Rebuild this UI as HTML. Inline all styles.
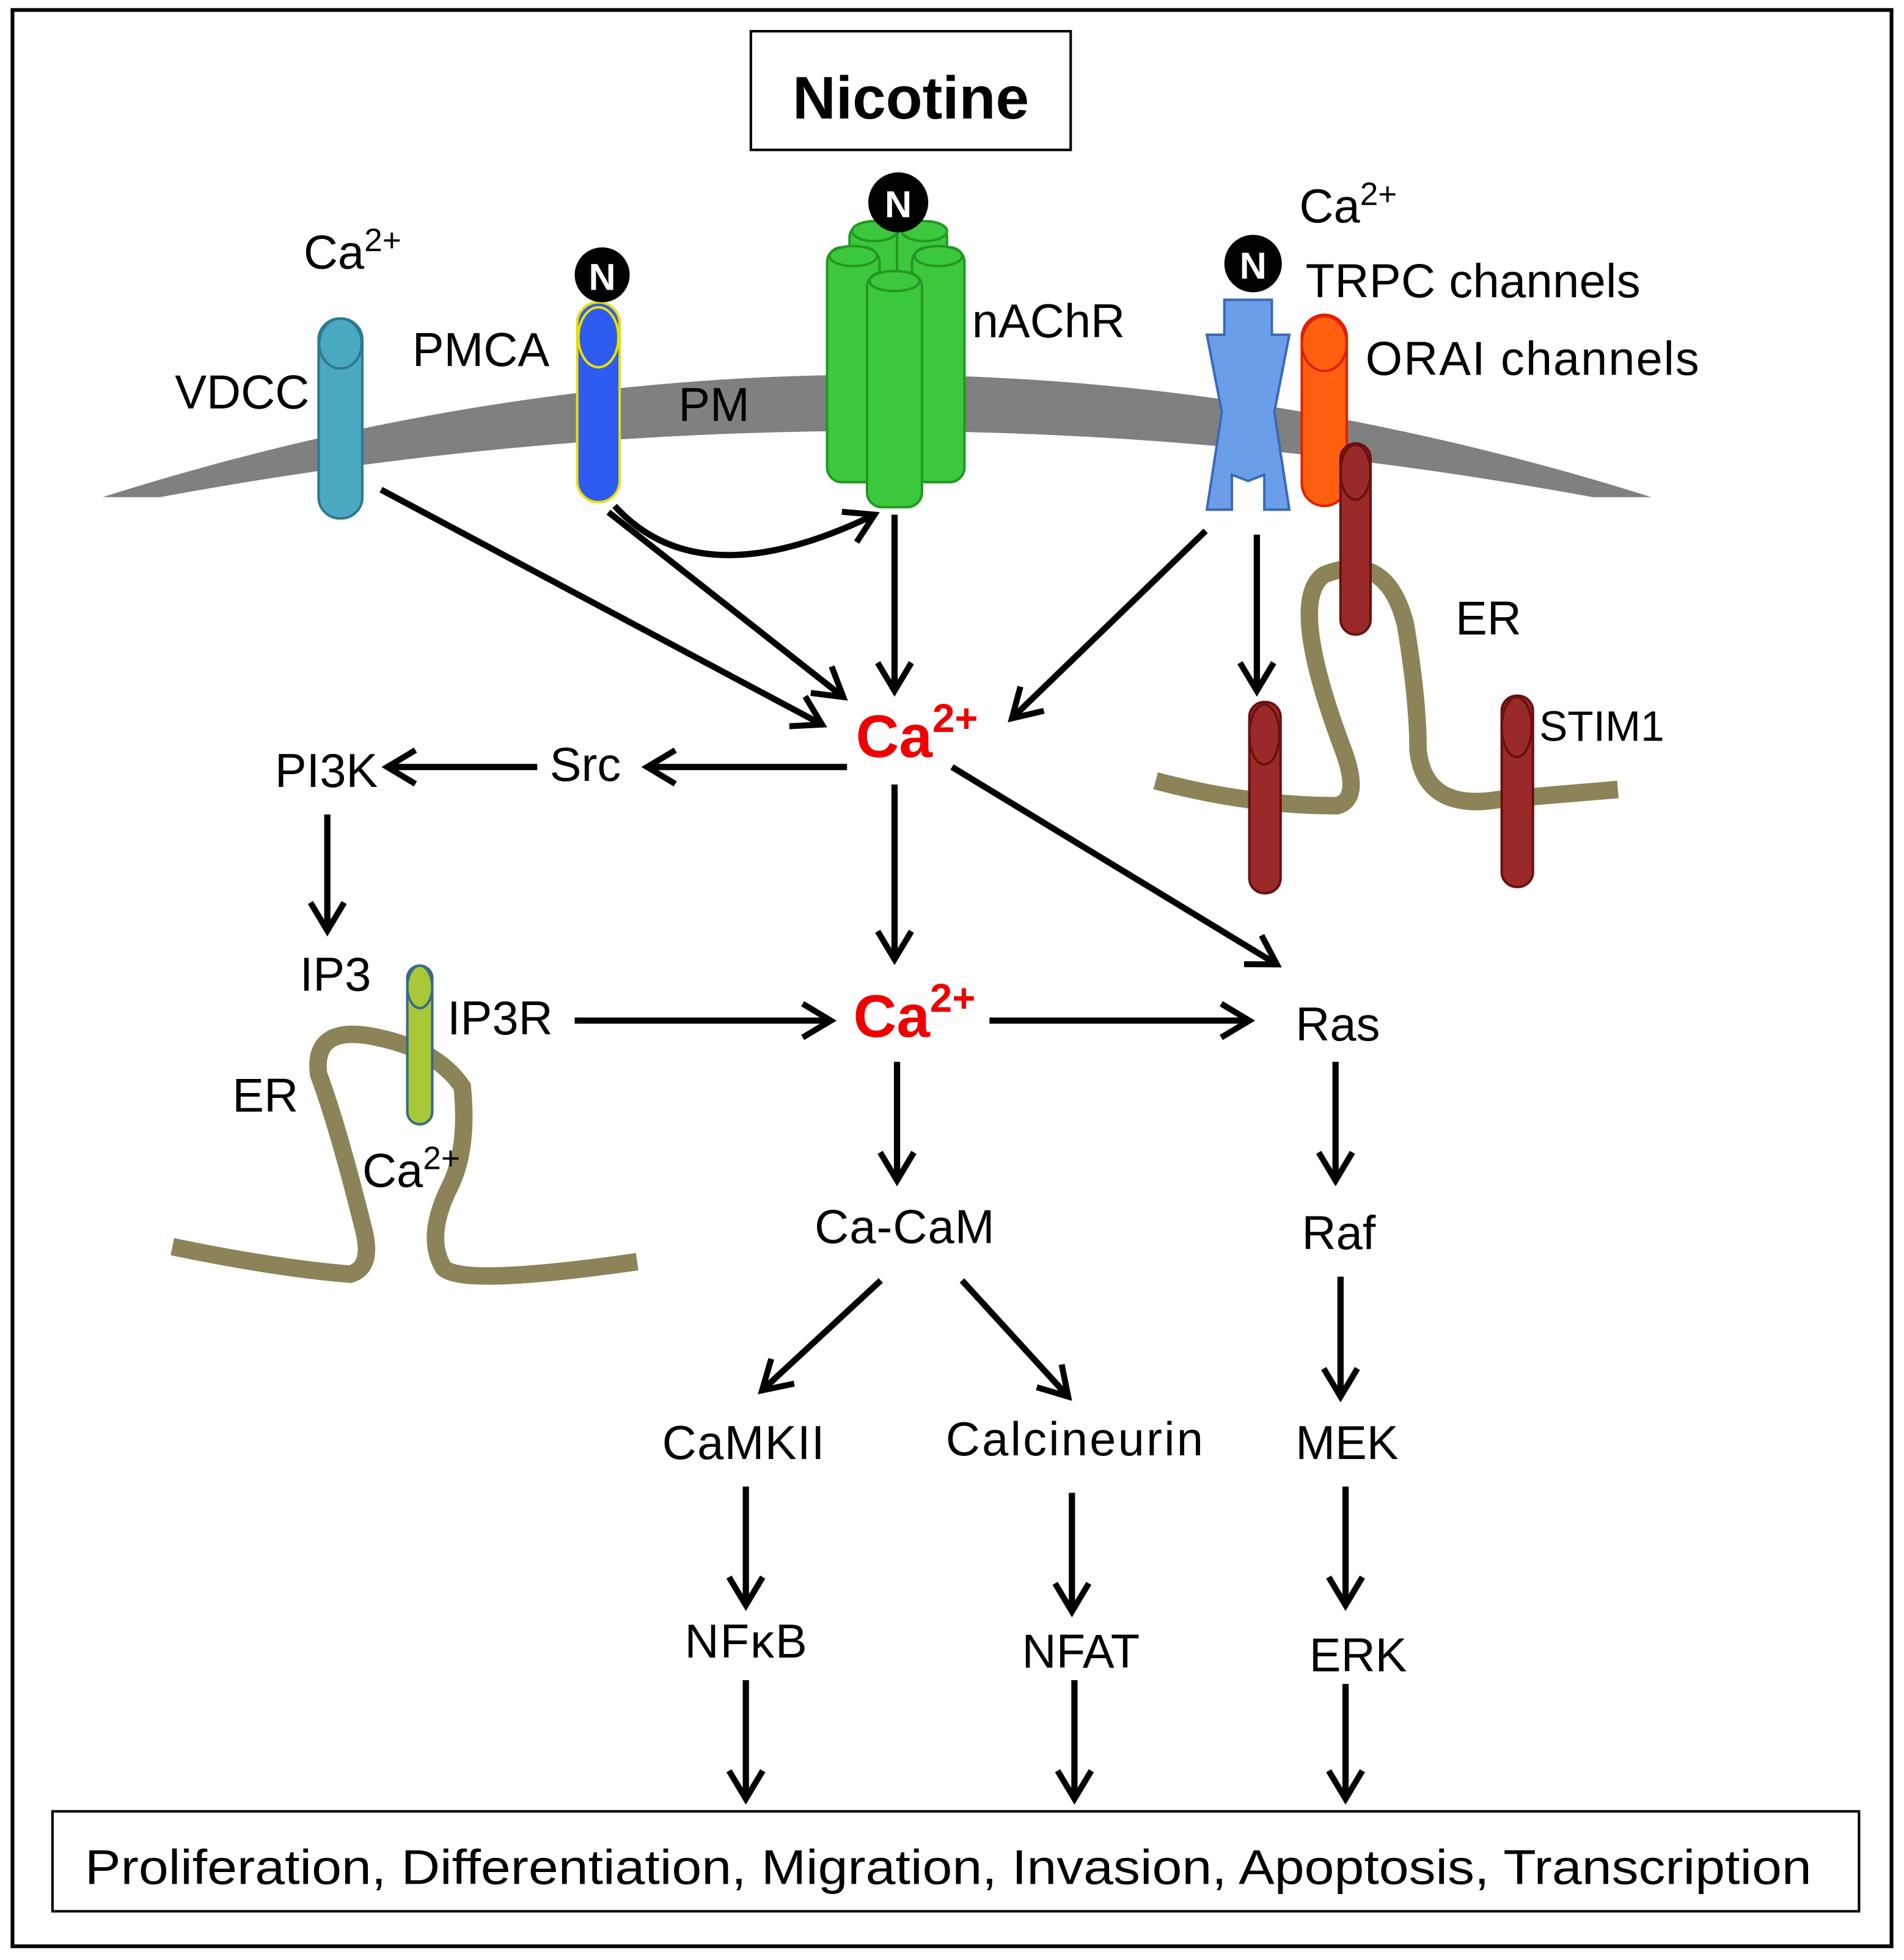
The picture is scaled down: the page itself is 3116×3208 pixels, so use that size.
<!DOCTYPE html>
<html><head><meta charset="utf-8"><style>html,body{margin:0;padding:0;background:#fff}svg{display:block}text{font-family:"Liberation Sans","DejaVu Sans",sans-serif}</style></head>
<body>
<svg width="3116" height="3208" viewBox="0 0 1524 1569" preserveAspectRatio="none" xmlns="http://www.w3.org/2000/svg">
<defs>
<marker id="a" viewBox="0 0 20 20" refX="17" refY="10" markerWidth="30" markerHeight="30" orient="auto" markerUnits="userSpaceOnUse" style="overflow:visible">
<polyline points="2,1 17,10 2,19" fill="none" stroke="#000" stroke-width="3.2"/></marker>
</defs>
<rect x="10" y="8" width="1504" height="1550" fill="#fff" stroke="#000" stroke-width="3"/>
<rect x="601" y="25" width="256" height="95" fill="#fff" stroke="#000" stroke-width="2"/>
<text x="729" y="95" font-size="48" font-weight="bold" text-anchor="middle">Nicotine</text>
<path d="M82,398 Q700,202 1322,398 L1275,398 Q700,292 128,398 Z" fill="#808080"/>
<path d="M925,625 Q1000,645 1070,645 Q1090,640 1075,600 Q1030,480 1060,460 Q1110,440 1125,500 Q1135,560 1135,600 Q1140,650 1200,640 L1295,632" fill="none" stroke="#8c8458" stroke-width="14"/>
<path d="M138,998 Q220,1015 280,1020 Q300,1015 290,980 Q270,900 255,860 Q250,820 300,830 Q350,840 370,870 Q375,920 360,950 Q340,990 355,1015 Q370,1030 510,1010" fill="none" stroke="#8c8458" stroke-width="14"/>
<rect x="255" y="255" width="35" height="160" rx="17" fill="#4aa8c0" stroke="#2b7a90" stroke-width="2"/>
<ellipse cx="272.5" cy="275" rx="17" ry="20" fill="#4aa8c0" stroke="#2b7a90" stroke-width="2"/>
<rect x="462" y="242" width="34" height="160" rx="17" fill="#2e5cf0" stroke="#e8e000" stroke-width="2"/>
<ellipse cx="479" cy="270" rx="16" ry="24" fill="#2e5cf0" stroke="#e8e000" stroke-width="2"/>
<circle cx="482" cy="220" r="22" fill="#000"/><text x="482" y="232" font-size="30" font-weight="bold" fill="#fff" text-anchor="middle">N</text>
<g fill="#3cc83c" stroke="#229922" stroke-width="2">
<rect x="680" y="180" width="40" height="130" rx="10"/><rect x="718" y="180" width="40" height="130" rx="10"/>
<rect x="662" y="198" width="42" height="188" rx="12"/><rect x="730" y="198" width="42" height="188" rx="12"/>
<rect x="694" y="218" width="44" height="188" rx="12"/>
<ellipse cx="700" cy="185" rx="18" ry="8"/><ellipse cx="740" cy="185" rx="18" ry="8"/>
<ellipse cx="683" cy="205" rx="19" ry="8"/><ellipse cx="751" cy="205" rx="19" ry="8"/><ellipse cx="716" cy="225" rx="20" ry="8"/>
</g>
<circle cx="719" cy="162" r="24" fill="#000"/><text x="719" y="174" font-size="30" font-weight="bold" fill="#fff" text-anchor="middle">N</text>
<path d="M980,240 L1018,240 L1018,268 L1032,268 L1020,330 L1032,408 L1012,408 L1012,380 L999,385 L986,380 L986,408 L966,408 L978,330 L966,268 L980,268 Z" fill="#6a9ee8" stroke="#3a6ab8" stroke-width="2"/>
<circle cx="1003" cy="211" r="23" fill="#000"/><text x="1003" y="223" font-size="30" font-weight="bold" fill="#fff" text-anchor="middle">N</text>
<rect x="1042" y="252" width="36" height="153" rx="18" fill="#ff6010" stroke="#e02000" stroke-width="2"/>
<ellipse cx="1060" cy="275" rx="18" ry="22" fill="#ff6010" stroke="#e02000" stroke-width="2"/>
<g fill="#9a2a2a" stroke="#6a1010" stroke-width="2">
<rect x="1073" y="355" width="24" height="153" rx="12"/><ellipse cx="1085" cy="378" rx="12" ry="22"/>
<rect x="1000" y="562" width="25" height="153" rx="12"/><ellipse cx="1012" cy="588" rx="12" ry="24"/>
<rect x="1202" y="557" width="25" height="153" rx="12"/><ellipse cx="1214" cy="582" rx="12" ry="24"/>
</g>
<rect x="326" y="773" width="20" height="127" rx="10" fill="#a8c838" stroke="#3a6a8a" stroke-width="2"/>
<ellipse cx="336" cy="790" rx="10" ry="17" fill="#a8c838" stroke="#3a6a8a" stroke-width="2"/>
<g font-size="38">
<text x="243" y="215">Ca<tspan font-size="26" dy="-14">2+</tspan></text>
<text x="140" y="327">VDCC</text>
<text x="330" y="293">PMCA</text>
<text x="543" y="337">PM</text>
<text x="778" y="270">nAChR</text>
<text x="1040" y="178">Ca<tspan font-size="26" dy="-14">2+</tspan></text>
<text x="1045" y="238" textLength="268">TRPC channels</text>
<text x="1093" y="300" textLength="267">ORAI channels</text>
<text x="1165" y="508">ER</text>
<text x="1232" y="593" font-size="34">STIM1</text>
<text x="440" y="625">Src</text>
<text x="220" y="630">PI3K</text>
<text x="240" y="793">IP3</text>
<text x="358" y="828">IP3R</text>
<text x="186" y="890">ER</text>
<text x="290" y="950">Ca<tspan font-size="26" dy="-14">2+</tspan></text>
<text x="1037" y="833">Ras</text>
<text x="652" y="995" textLength="144">Ca-CaM</text>
<text x="1042" y="1000">Raf</text>
<text x="530" y="1168" textLength="130">CaMKII</text>
<text x="757" y="1165" textLength="206">Calcineurin</text>
<text x="1037" y="1168">MEK</text>
<text x="548" y="1327" textLength="98">NFκB</text>
<text x="818" y="1335">NFAT</text>
<text x="1048" y="1338">ERK</text>
</g>
<text x="685" y="606" font-size="48" font-weight="bold" fill="#ee0000">Ca<tspan font-size="32" dy="-20">2+</tspan></text>
<text x="683" y="830" font-size="48" font-weight="bold" fill="#ee0000">Ca<tspan font-size="32" dy="-20">2+</tspan></text>
<g stroke="#000" stroke-width="5" fill="none" marker-end="url(#a)">
<line x1="305" y1="392" x2="658" y2="580"/>
<line x1="487" y1="410" x2="675" y2="558"/>
<path d="M492,405 Q560,480 700,412"/>
<line x1="716" y1="412" x2="716" y2="553"/>
<line x1="965" y1="425" x2="810" y2="575"/>
<line x1="1006" y1="428" x2="1006" y2="553"/>
<line x1="678" y1="614" x2="518" y2="614"/>
<line x1="430" y1="614" x2="310" y2="614"/>
<line x1="262" y1="652" x2="262" y2="745"/>
<line x1="460" y1="817" x2="665" y2="817"/>
<line x1="792" y1="817" x2="1000" y2="817"/>
<line x1="762" y1="614" x2="1022" y2="772"/>
<line x1="716" y1="628" x2="716" y2="768"/>
<line x1="718" y1="850" x2="718" y2="945"/>
<line x1="705" y1="1025" x2="610" y2="1113"/>
<line x1="770" y1="1025" x2="855" y2="1118"/>
<line x1="1069" y1="850" x2="1069" y2="945"/>
<line x1="1073" y1="1022" x2="1073" y2="1118"/>
<line x1="1077" y1="1190" x2="1077" y2="1285"/>
<line x1="597" y1="1190" x2="597" y2="1285"/>
<line x1="597" y1="1345" x2="597" y2="1440"/>
<line x1="858" y1="1195" x2="858" y2="1290"/>
<line x1="860" y1="1345" x2="860" y2="1440"/>
<line x1="1077" y1="1348" x2="1077" y2="1440"/>
</g>
<rect x="42" y="1450" width="1446" height="80" fill="#fff" stroke="#000" stroke-width="2"/>
<text x="68" y="1508" font-size="39" textLength="1382" lengthAdjust="spacingAndGlyphs">Proliferation, Differentiation, Migration, Invasion, Apoptosis, Transcription</text>
</svg>
</body></html>
